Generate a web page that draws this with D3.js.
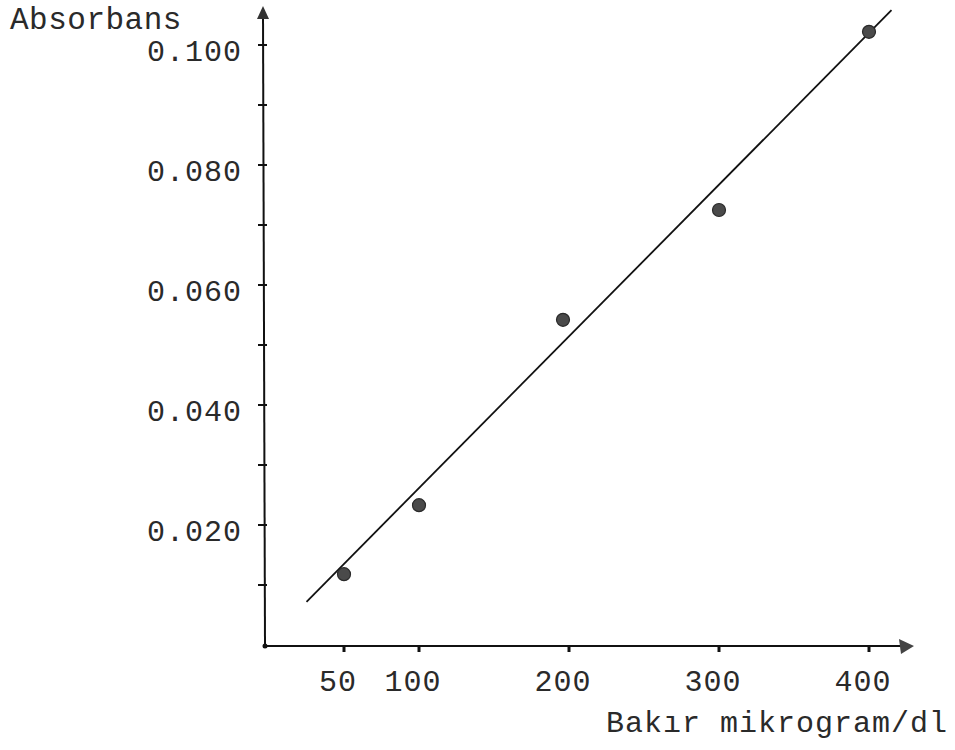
<!DOCTYPE html>
<html>
<head>
<meta charset="utf-8">
<script src="https://cdn.jsdelivr.net/npm/d3@7"></script>
<style>
  body { margin: 0; background: #fff; }
  text { font-family: "Liberation Mono", "DejaVu Sans Mono", monospace; fill: #2a2a2a; }
</style>
</head>
<body>
<div id="chart"></div>
<script>
var copper = [50, 100, 196, 300, 400];
var absorb = [0.0118, 0.0233, 0.0542, 0.0725, 0.1022];
var fitX = [25, 415];
var fitY = [0.0072, 0.1058];
var xTicks = [50, 100, 200, 300, 400];
var yTicks = [0.020, 0.040, 0.060, 0.080, 0.100];
var yMinor = [0.010, 0.030, 0.050, 0.070, 0.090];

var w = 955, h = 750;
var svg = d3.select("#chart").append("svg").attr("width", w).attr("height", h);

var x = d3.scaleLinear().domain([0, 100]).range([269, 419]);
var y = d3.scaleLinear().domain([0, 0.1]).range([645, 45]);

var ax0 = 263, ay0 = 646;

// axes with arrows
svg.append("line").attr("x1", ax0 + 2).attr("y1", ay0).attr("x2", ax0).attr("y2", 14)
  .attr("stroke", "#111").attr("stroke-width", 2);
svg.append("line").attr("x1", ax0 + 2).attr("y1", ay0).attr("x2", 906).attr("y2", ay0)
  .attr("stroke", "#111").attr("stroke-width", 2);
svg.append("path").attr("d", "M" + ax0 + ",6 L" + (ax0 - 6) + ",19 L" + (ax0 + 6) + ",19 Z").attr("fill", "#333");
svg.append("path").attr("d", "M914," + ay0 + " L899," + (ay0 - 7) + " L901," + (ay0 + 8) + " Z").attr("fill", "#444");
svg.append("circle").attr("cx", ax0 + 2).attr("cy", ay0).attr("r", 2.5).attr("fill", "#111");

// y ticks, crossing the axis
svg.selectAll(".ytick").data(yTicks.concat(yMinor)).enter().append("line")
  .attr("x1", ax0 - 5).attr("x2", ax0 + 4)
  .attr("y1", function(d) { return y(d); }).attr("y2", function(d) { return y(d); })
  .attr("stroke", "#111").attr("stroke-width", 2);

svg.selectAll(".ylab").data(yTicks).enter().append("text")
  .attr("x", 242).attr("y", function(d) { return y(d) + 16; })
  .attr("text-anchor", "end").attr("font-size", "30px").attr("letter-spacing", "1px")
  .text(function(d) { return d3.format(".3f")(d); });

// x ticks
svg.selectAll(".xtick").data(xTicks).enter().append("line")
  .attr("x1", function(d) { return x(d); }).attr("x2", function(d) { return x(d); })
  .attr("y1", ay0).attr("y2", ay0 + 6)
  .attr("stroke", "#111").attr("stroke-width", 3);

svg.selectAll(".xlab").data(xTicks).enter().append("text")
  .attr("x", function(d) { return x(d) - 6; }).attr("y", 691)
  .attr("text-anchor", "middle").attr("font-size", "30px").attr("letter-spacing", "1px")
  .text(function(d) { return d; });

svg.append("text").attr("x", 10).attr("y", 29).attr("font-size", "31px").attr("letter-spacing", "0.5px")
  .text("Absorbans");
svg.append("text").attr("x", 948).attr("y", 732).attr("text-anchor", "end")
  .attr("font-size", "30px").attr("letter-spacing", "1px")
  .text("Bakır mikrogram/dl");

// fitted line
svg.append("line")
  .attr("x1", x(fitX[0])).attr("y1", y(fitY[0]))
  .attr("x2", x(fitX[1])).attr("y2", y(fitY[1]))
  .attr("stroke", "#111").attr("stroke-width", 1.8);

// points
svg.selectAll(".pt").data(copper).enter().append("circle")
  .attr("cx", function(d) { return x(d); })
  .attr("cy", function(d, i) { return y(absorb[i]); })
  .attr("r", 6.5).attr("fill", "#4a4a4a").attr("stroke", "#2a2a2a").attr("stroke-width", 1.2);
</script>
</body>
</html>
